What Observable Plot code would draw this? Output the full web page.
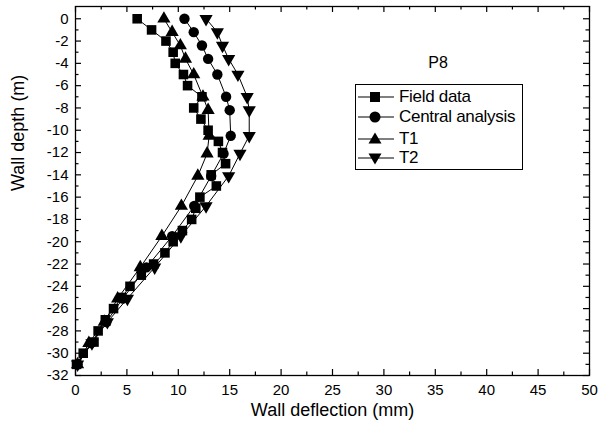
<!DOCTYPE html>
<html><head><meta charset="utf-8">
<script src="https://cdn.jsdelivr.net/npm/d3@7"></script>
<script src="https://cdn.jsdelivr.net/npm/@observablehq/plot@0.6"></script>
<style>
body{margin:0;background:#fff;}
#wrap{position:relative;width:604px;height:431px;font-family:"Liberation Sans",Arial,sans-serif;color:#000;}
#ptitle{position:absolute;left:388px;top:54px;width:100px;text-align:center;font-size:16px;}
#legend{position:absolute;left:355px;top:84px;width:168px;height:86px;border:1px solid #000;box-sizing:border-box;}
.row{position:absolute;left:0;height:20px;display:flex;align-items:center;font-size:17px;white-space:nowrap;letter-spacing:-0.3px;}
.row svg{display:block;margin-right:3px;}
</style></head><body><div id="wrap"></div>
<script>
// Depths (m)
const depthField = [0,-1,-2,-3,-4,-5,-6,-7,-8,-9,-10,-11,-12,-13,-14,-15,-16,-17,-18,-19,-20,-21,-22,-23,-24,-25,-26,-27,-28,-29,-30,-31];
const fieldData  = [6.0,7.4,8.8,9.5,9.7,10.5,10.9,12.3,11.5,12.2,12.9,13.9,14.3,14.6,13.2,13.7,12.1,11.7,11.3,10.4,9.5,8.7,7.6,6.4,5.3,4.5,3.7,2.9,2.2,1.8,0.75,0.1];
const depthModel = [0,-1.2,-2.4,-3.6,-5,-7,-8.2,-10.5,-12.1,-14.1,-16.8,-19.5,-22.3,-25.1,-27.2,-29.1,-31];
const central    = [10.6,11.5,12.3,12.9,13.8,14.65,15.0,15.1,14.4,13.2,11.55,9.4,6.9,4.6,3.0,1.5,0.2];
const t1         = [8.6,9.4,10.2,10.7,11.5,12.4,12.9,13.0,12.8,11.9,10.3,8.4,6.3,4.1,2.8,1.3,0.2];
const t2         = [12.7,13.8,14.3,14.9,15.8,16.7,16.9,16.9,16.0,14.9,12.7,10.25,7.7,5.05,3.1,1.6,0.2];
const seriesNames = ["Field data","Central analysis","T1","T2"];
const xTicks = [0,5,10,15,20,25,30,35,40,45,50];
const yTicks = [0,-2,-4,-6,-8,-10,-12,-14,-16,-18,-20,-22,-24,-26,-28,-30,-32];
const xMinor = [2.5,7.5,12.5,17.5,22.5,27.5,32.5,37.5,42.5,47.5];
const yMinor = [-1,-3,-5,-7,-9,-11,-13,-15,-17,-19,-21,-23,-25,-27,-29,-31];

const rows = [];
depthField.forEach((d,i)=>rows.push({s:seriesNames[0], x:fieldData[i], y:d}));
depthModel.forEach((d,i)=>rows.push({s:seriesNames[1], x:central[i], y:d}));
depthModel.forEach((d,i)=>rows.push({s:seriesNames[2], x:t1[i], y:d}));
depthModel.forEach((d,i)=>rows.push({s:seriesNames[3], x:t2[i], y:d}));
const bySeries = n => rows.filter(r=>r.s===n);

const W=604, H=431, mL=75, mR=15, mT=6, mB=56;
const pw = W-mL-mR, ph = H-mT-mB;
const major=6, minor=3.5;

const chart = Plot.plot({
  width: W, height: H,
  marginLeft: mL, marginRight: mR, marginTop: mT, marginBottom: mB,
  style: {fontFamily: '"Liberation Sans", Arial, sans-serif', fontSize: "14px", color: "#000", background: "#fff"},
  x: {domain: [0,50]},
  y: {domain: [-32, 1.1]},
  marks: [
    // inward ticks
    Plot.tickY(yTicks, {y: d=>d, insetRight: pw-major, stroke:"#000", strokeWidth:1.2}),
    Plot.tickY(yMinor, {y: d=>d, insetRight: pw-minor, stroke:"#000", strokeWidth:1.2}),
    Plot.tickY(yTicks, {y: d=>d, insetLeft: pw-major, stroke:"#000", strokeWidth:1.2}),
    Plot.tickY(yMinor, {y: d=>d, insetLeft: pw-minor, stroke:"#000", strokeWidth:1.2}),
    Plot.tickX(xTicks, {x: d=>d, insetTop: ph-major, stroke:"#000", strokeWidth:1.2}),
    Plot.tickX(xMinor, {x: d=>d, insetTop: ph-minor, stroke:"#000", strokeWidth:1.2}),
    Plot.tickX(xTicks, {x: d=>d, insetBottom: ph-major, stroke:"#000", strokeWidth:1.2}),
    Plot.tickX(xMinor, {x: d=>d, insetBottom: ph-minor, stroke:"#000", strokeWidth:1.2}),
    Plot.axisX(xTicks, {tickSize: 0, tickPadding: 9, label: null, tickFormat: d=>String(d), fontSize: 15}),
    Plot.axisY(yTicks, {tickSize: 0, tickPadding: 7, label: null, tickFormat: d=>String(d), fontSize: 15}),
    Plot.text(["Wall deflection (mm)"], {frameAnchor:"bottom", dy: 40, fontSize: 18}),
    Plot.text(["Wall depth (m)"], {frameAnchor:"left", dx: -57, rotate: -90, fontSize: 18}),
    Plot.line(rows, {x:"x", y:"y", z:"s", stroke:"#000", strokeWidth:1}),
    Plot.dot(bySeries("Field data"), {x:"x", y:"y", symbol:"square", fill:"#000", r:5.4}),
    Plot.dot(bySeries("Central analysis"), {x:"x", y:"y", symbol:"circle", fill:"#000", r:5.2}),
    Plot.dot(bySeries("T1"), {x:"x", y:"y", symbol:"triangle", fill:"#000", r:4.9}),
    Plot.dot(bySeries("T2"), {x:"x", y:"y", symbol:"triangle", rotate:180, fill:"#000", r:4.9}),
    Plot.frame({stroke:"#000", strokeWidth:1.3})
  ]
});
const wrap = document.getElementById("wrap");
wrap.appendChild(chart);

// Title and legend
const t = document.createElement("div"); t.id="ptitle"; t.textContent="P8"; wrap.appendChild(t);
const lg = document.createElement("div"); lg.id="legend"; wrap.appendChild(lg);
const glyph = {
  "Field data": '<rect x="14" y="5" width="10" height="10" fill="#000"/>',
  "Central analysis": '<circle cx="19" cy="10" r="5.5" fill="#000"/>',
  "T1": '<path d="M19,3.5L25.5,14.5L12.5,14.5Z" fill="#000"/>',
  "T2": '<path d="M19,16.5L25.5,5.5L12.5,5.5Z" fill="#000"/>'
};
const rowTops = [2, 22, 44, 63];
seriesNames.forEach((n,i)=>{
  const r = document.createElement("div"); r.className="row"; r.style.top = rowTops[i]+"px";
  r.innerHTML = `<svg width="40" height="20"><line x1="2" y1="10" x2="38" y2="10" stroke="#000" stroke-width="1"/>${glyph[n]}</svg><span>${n}</span>`;
  lg.appendChild(r);
});
</script></body></html>
